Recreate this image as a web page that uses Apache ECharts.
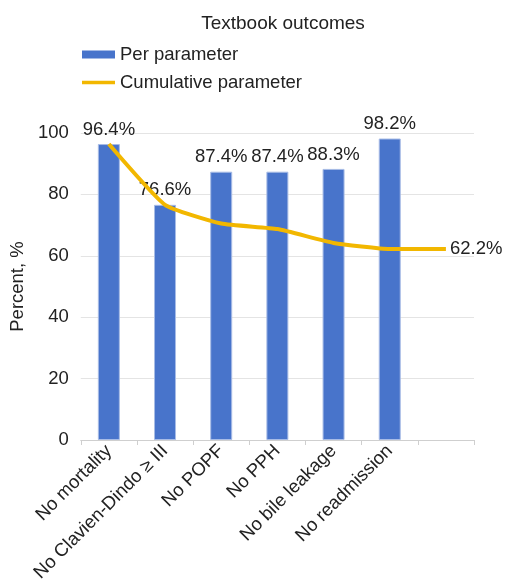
<!DOCTYPE html>
<html>
<head>
<meta charset="utf-8">
<script src="https://cdn.jsdelivr.net/npm/echarts@6/dist/echarts.min.js"></script>
<style>
  html, body { margin: 0; padding: 0; background: #fff; }
  #chart { width: 507px; height: 585px; }
</style>
</head>
<body>
<div id="chart"></div>
<script>
// Outcome categories (last slot is empty to leave room for the cumulative end value)
const categories = ['No mortality', 'No Clavien-Dindo \u2265 III', 'No POPF', 'No PPH', 'No bile leakage', 'No readmission', ''];
// Share of patients meeting each single parameter
const perParameter = [96.4, 76.6, 87.4, 87.4, 88.3, 98.2, null];
// Share meeting all parameters up to and including each one
const cumulative = [96.4, 76.6, 70.5, 68.7, 64.2, 62.2, 62.2];
const yTicks = { min: 0, max: 100, interval: 20 };

const font = 'Liberation Sans, Arial, Helvetica, sans-serif';
const fs = 18.5;
const barColor = '#4874CB';
const lineColor = '#F2B700';
const pct = v => v.toFixed(1) + '%';
// Thin horizontal stroke for the line legend key; tiny corner specks keep the full key box
const lineKey = 'path://M0,0L0.01,0L0,0.01Z M0,2.2L33,2.2L33,5.8L0,5.8Z M33,8L32.99,8L33,7.99Z';

const chart = echarts.init(document.getElementById('chart'), null, { renderer: 'canvas' });

chart.setOption({
  animation: false,
  textStyle: { fontFamily: font },
  title: {
    text: 'Textbook outcomes',
    left: 278, top: 9, textAlign: 'center',
    textStyle: { fontSize: 19, fontWeight: 'normal', color: '#222', fontFamily: font }
  },
  legend: {
    orient: 'vertical', left: 77, top: 40,
    itemWidth: 33, itemHeight: 8, itemGap: 9,
    textStyle: { fontSize: fs, color: '#222', fontFamily: font },
    data: [
      { name: 'Per parameter', icon: 'rect', itemStyle: { color: barColor, borderWidth: 0 } },
      { name: 'Cumulative parameter', icon: lineKey, itemStyle: { color: lineColor, borderWidth: 0 } }
    ]
  },
  grid: { left: 79, right: 33, top: 133, bottom: 145 },
  xAxis: {
    type: 'category',
    data: categories,
    axisLine: { lineStyle: { color: '#cfcfcf' } },
    axisTick: { show: true, length: 5, lineStyle: { color: '#cfcfcf' } },
    axisLabel: { interval: 0, rotate: 45, fontSize: fs, color: '#222', margin: 8, fontFamily: font }
  },
  yAxis: {
    type: 'value',
    min: yTicks.min, max: yTicks.max, interval: yTicks.interval,
    name: 'Percent, %', nameLocation: 'middle', nameGap: 50, nameRotate: 90,
    nameTextStyle: { fontSize: fs, color: '#222', fontFamily: font },
    axisLine: { show: false },
    axisTick: { show: false },
    axisLabel: { fontSize: fs, color: '#222', margin: 12, fontFamily: font },
    splitLine: { lineStyle: { color: '#e4e4e4' } }
  },
  series: [
    {
      name: 'Per parameter',
      type: 'bar',
      data: perParameter,
      barWidth: 22,
      itemStyle: { color: barColor, borderColor: '#a8bce6', borderWidth: 1 },
      label: {
        show: true, position: 'top', distance: 5,
        fontSize: fs, color: '#222', fontFamily: font,
        formatter: p => pct(p.value)
      },
      z: 2
    },
    {
      name: 'Cumulative parameter',
      type: 'line',
      data: cumulative,
      symbol: 'none',
      smooth: 0.15,
      lineStyle: { color: lineColor, width: 4 },
      itemStyle: { color: lineColor },
      endLabel: {
        show: true, distance: 4,
        fontSize: fs, color: '#222', fontFamily: font,
        formatter: p => pct(p.value)
      },
      z: 3
    }
  ]
});
</script>
</body>
</html>
